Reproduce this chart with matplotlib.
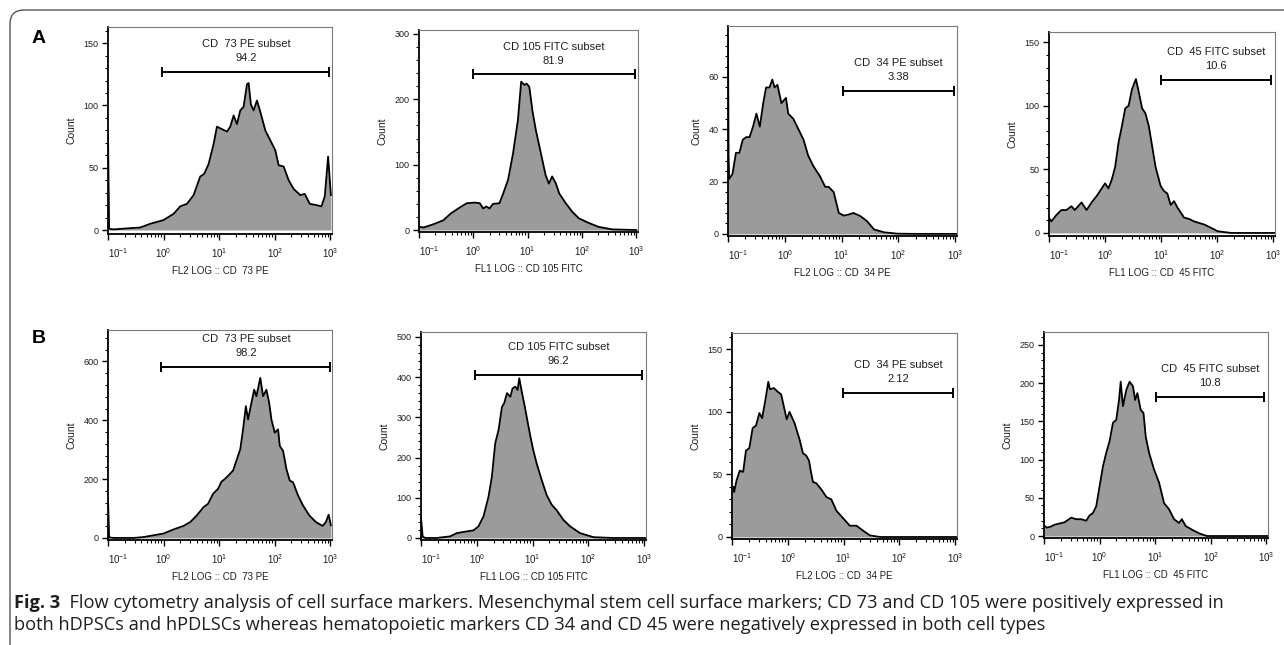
import numpy as np
import matplotlib
matplotlib.use("Agg")
import matplotlib.pyplot as plt
from matplotlib.patches import FancyBboxPatch
from matplotlib.transforms import IdentityTransform, ScaledTranslation
from matplotlib.ticker import MultipleLocator, FixedLocator, FixedFormatter, NullFormatter

plt.rcParams['font.family'] = ['Liberation Sans', 'DejaVu Sans']

# ---------------- data (x as log10 fluorescence, y as count) ----------------
a1_exp = [-1.0, -0.98, -0.9, -0.66, -0.42, -0.24, 0.0, 0.18, 0.30, 0.42, 0.54, 0.66, 0.73, 0.81, 0.90, 0.96,
          1.05, 1.14, 1.20, 1.26, 1.32, 1.38, 1.44, 1.50, 1.53, 1.57, 1.62, 1.68, 1.74, 1.83, 1.92, 2.01, 2.07,
          2.16, 2.25, 2.34, 2.46, 2.54, 2.63, 2.75, 2.84, 2.90, 2.96, 3.01]
a1_cnt = [77, 1, 0.5, 1.3, 2, 5, 8, 13, 19, 21, 28, 43, 45, 53, 69, 83, 81, 79, 83, 92, 85, 96, 99, 117, 118, 101,
          96, 104, 95, 80, 72, 64, 52, 51, 40, 33, 28, 29, 21, 20, 19, 27, 59, 28]

a2_exp = [-1.0, -0.91, -0.73, -0.55, -0.42, -0.24, -0.12, 0.03, 0.12, 0.18, 0.24, 0.30, 0.36, 0.48, 0.55, 0.64,
          0.73, 0.82, 0.88, 0.94, 0.98, 1.03, 1.09, 1.15, 1.21, 1.27, 1.33, 1.39, 1.45, 1.52, 1.58, 1.70, 1.82,
          1.94, 2.12, 2.30, 2.55, 2.79, 3.0]
a2_cnt = [5, 4, 9, 15, 25, 35, 41, 42, 41, 33, 36, 33, 40, 41, 56, 77, 117, 168, 227, 222, 224, 219, 181, 153,
          130, 107, 84, 71, 82, 71, 56, 41, 28, 18, 11, 5, 1, 0.5, 0]

a3_exp = [-1.0, -0.99, -0.98, -0.92, -0.86, -0.80, -0.74, -0.68, -0.62, -0.56, -0.50, -0.44, -0.38, -0.33, -0.27,
          -0.22, -0.18, -0.13, -0.06, 0.02, 0.06, 0.15, 0.24, 0.33, 0.41, 0.50, 0.62, 0.71, 0.77, 0.86, 0.95, 1.04,
          1.12, 1.21, 1.33, 1.45, 1.57, 1.75, 1.98, 2.28, 3.03]
a3_cnt = [75, 30, 21, 23, 31, 31, 36, 37, 37, 41, 46, 41, 50, 56, 56, 59, 56, 57, 50, 52, 46, 44, 40, 36, 30, 26,
          22, 18, 18, 16, 8, 7, 7.4, 8, 6.8, 4.8, 1.7, 0.6, 0.1, 0, 0]

a4_exp = [-1.0, -0.96, -0.87, -0.78, -0.69, -0.60, -0.54, -0.42, -0.33, -0.24, -0.15, -0.06, 0.0, 0.06, 0.12, 0.18,
          0.24, 0.30, 0.36, 0.42, 0.48, 0.55, 0.60, 0.66, 0.72, 0.78, 0.84, 0.90, 0.99, 1.05, 1.11, 1.17, 1.23,
          1.29, 1.41, 1.50, 1.59, 1.77, 1.89, 2.01, 2.25, 3.03]
a4_cnt = [12, 9, 14, 18, 18, 21, 18, 24, 18, 24, 29, 35, 39, 35, 42, 52, 71, 84, 98, 100, 113, 121, 111, 98, 94,
          84, 68, 52, 37, 33, 31, 22, 25, 20, 12, 11, 9, 6.6, 4, 1.3, 0, 0]

b1_exp = [-1.0, -0.98, -0.90, -0.54, -0.36, -0.18, 0.0, 0.18, 0.36, 0.48, 0.60, 0.72, 0.80, 0.89, 0.98, 1.04, 1.10,
          1.19, 1.25, 1.32, 1.38, 1.43, 1.48, 1.52, 1.58, 1.63, 1.67, 1.74, 1.79, 1.85, 1.90, 1.94, 2.00, 2.06,
          2.09, 2.15, 2.21, 2.27, 2.33, 2.42, 2.51, 2.62, 2.74, 2.86, 2.92, 2.97, 3.01]
b1_cnt = [133, 2, 0, 0, 3, 9, 15, 29, 41, 54, 77, 105, 116, 150, 167, 191, 200, 217, 229, 268, 302, 369, 448, 403,
          459, 504, 482, 544, 482, 504, 459, 403, 358, 369, 313, 296, 234, 195, 189, 144, 110, 77, 54, 41, 54, 79, 43]

b2_exp = [-1.0, -0.97, -0.92, -0.72, -0.48, -0.36, -0.24, -0.06, 0.03, 0.12, 0.21, 0.27, 0.33, 0.39, 0.45, 0.49,
          0.54, 0.60, 0.64, 0.69, 0.73, 0.76, 0.81, 0.86, 0.92, 0.96, 1.01, 1.07, 1.16, 1.25, 1.34, 1.43, 1.55,
          1.67, 1.85, 2.09, 2.44, 3.03]
b2_cnt = [50, 3, 0, 0, 4, 12, 15, 19, 29, 54, 103, 153, 236, 269, 326, 335, 360, 351, 372, 376, 368, 397, 360, 326,
          281, 252, 219, 186, 145, 107, 83, 69, 45, 29, 12, 2, 0, 0]

b3_exp = [-1.0, -0.97, -0.96, -0.92, -0.86, -0.80, -0.75, -0.69, -0.63, -0.57, -0.51, -0.46, -0.40, -0.35, -0.32,
          -0.25, -0.18, -0.12, -0.06, -0.02, 0.03, 0.12, 0.21, 0.27, 0.33, 0.38, 0.41, 0.45, 0.51, 0.60, 0.69, 0.78,
          0.87, 0.99, 1.11, 1.23, 1.35, 1.47, 1.65, 3.03]
b3_cnt = [40, 40, 36, 45, 53, 52, 69, 71, 87, 89, 99, 95, 110, 124, 118, 119, 116, 114, 102, 94, 100, 91, 78, 67,
          65, 61, 53, 44, 43, 38, 32, 30, 21, 15, 9, 9, 5, 1.3, 0, 0]

b4_exp = [-1.0, -0.95, -0.89, -0.80, -0.71, -0.63, -0.51, -0.42, -0.33, -0.24, -0.18, -0.12, -0.06, 0.0, 0.06, 0.12,
          0.18, 0.24, 0.30, 0.35, 0.38, 0.42, 0.48, 0.54, 0.60, 0.64, 0.68, 0.74, 0.79, 0.83, 0.89, 0.98, 1.07,
          1.16, 1.25, 1.34, 1.43, 1.48, 1.55, 1.67, 1.79, 1.93, 3.03]
b4_cnt = [14, 11, 12, 15, 16.5, 18, 24, 22, 22, 20, 27, 30, 39, 65, 91, 109, 124, 148, 152, 178, 202, 170, 191, 202,
          196, 178, 187, 165, 161, 130, 109, 87, 70, 43, 35, 22, 17, 22, 13, 8, 3.5, 0, 0]

subset_names = ["CD  73 PE subset", "CD 105 FITC subset", "CD  34 PE subset", "CD  45 FITC subset"]
x_titles = ["FL2 LOG :: CD  73 PE", "FL1 LOG :: CD 105 FITC", "FL2 LOG :: CD  34 PE", "FL1 LOG :: CD  45 FITC"]
gate_pct = ["94.2", "81.9", "3.38", "10.6", "98.2", "96.2", "2.12", "10.8"]
gate_lo_exp = [-0.02, -0.01, 1.02, 1.0, -0.04, -0.04, 0.99, 1.01]
gate_hi_exp = [2.98, 2.97, 2.98, 2.96, 3.0, 2.96, 2.96, 2.96]
gate_level = [127, 238, 54.8, 120.6, 581, 405, 115, 182]
y_major = [50, 100, 20, 50, 200, 100, 50, 50]
y_minor = [10, 20, 4, 10, 40, 20, 10, 10]
y_range = [(-3.2, 163), (-3, 306), (-0.8, 79.5), (-2.4, 158), (-7, 707), (-5, 512), (-1.6, 163), (-2.6, 267)]
row_letters = ["A", "B"]

caption_bold = "Fig. 3"
caption_l1 = ("  Flow cytometry analysis of cell surface markers. Mesenchymal stem cell surface markers; "
              "CD 73 and CD 105 were positively expressed in")
caption_l2 = ("both hDPSCs and hPDLSCs whereas hematopoietic markers CD 34 and CD 45 were negatively "
              "expressed in both cell types")

series_exp = [a1_exp, a2_exp, a3_exp, a4_exp, b1_exp, b2_exp, b3_exp, b4_exp]
series_cnt = [a1_cnt, a2_cnt, a3_cnt, a4_cnt, b1_cnt, b2_cnt, b3_cnt, b4_cnt]

# ---------------- layout (pixel boxes: left, right, top, bottom) ----------------
W, H = 1284, 645
boxes = [(108, 332, 27, 234), (419, 638, 30, 232), (728, 957, 26, 236), (1049, 1275, 32, 236),
         (108, 332, 330, 540), (421, 646, 332, 540), (732, 957, 333, 539), (1044, 1268, 332, 538)]

fig = plt.figure(figsize=(W / 100, H / 100), dpi=100)
fig.patch.set_facecolor('white')

# outer rounded frame
frame = FancyBboxPatch((10, -60), 1500, H - 10 + 60, boxstyle="round,pad=0,rounding_size=14",
                       transform=IdentityTransform(), fill=False, ec='#555555', lw=1.0)
fig.add_artist(frame)

txt_col = '#1e1e1e'
for i in range(8):
    l, r, t, b = boxes[i]
    ax = fig.add_axes([l / W, 1 - b / H, (r - l) / W, (b - t) / H])
    x = 10.0 ** np.array(series_exp[i])
    y = np.array(series_cnt[i], dtype=float)
    ax.fill_between(x, 0, y, color='#9b9b9b', lw=0, zorder=1)
    ax.plot(x, y, color='black', lw=1.3, zorder=2, solid_joinstyle='round')

    ax.set_xscale('log')
    ax.set_xlim(0.1, 10 ** 3.03)
    ax.set_ylim(*y_range[i])

    # gate
    glo, ghi = 10 ** gate_lo_exp[i], 10 ** gate_hi_exp[i]
    gy = gate_level[i]
    ax.plot([glo, ghi], [gy, gy], color='black', lw=1.4, zorder=3)
    ax.plot([glo, ghi], [gy, gy], ls='none', marker='|', ms=7, mew=1.4, color='black', zorder=3)
    gmid = 10 ** ((gate_lo_exp[i] + gate_hi_exp[i]) / 2)
    ax.annotate(subset_names[i % 4], xy=(gmid, gy), xytext=(0, 20), textcoords='offset points',
                ha='center', va='center', fontsize=8, color=txt_col)
    ax.annotate(gate_pct[i], xy=(gmid, gy), xytext=(0, 10), textcoords='offset points',
                ha='center', va='center', fontsize=8, color=txt_col)

    # spines
    for s in ['top', 'right']:
        ax.spines[s].set_color('#7a7a7a')
        ax.spines[s].set_linewidth(0.8)
    for s in ['left', 'bottom']:
        ax.spines[s].set_color('black')
        ax.spines[s].set_linewidth(1.3)

    # ticks
    ax.yaxis.set_major_locator(MultipleLocator(y_major[i]))
    ax.yaxis.set_minor_locator(MultipleLocator(y_minor[i]))
    ax.xaxis.set_major_locator(FixedLocator([0.1, 1, 10, 100, 1000]))
    ax.xaxis.set_major_formatter(FixedFormatter([r'$\mathdefault{10^{-1}}$', r'$\mathdefault{10^{0}}$',
                                                 r'$\mathdefault{10^{1}}$', r'$\mathdefault{10^{2}}$',
                                                 r'$\mathdefault{10^{3}}$']))
    minors = [m * 10.0 ** d for d in range(-1, 3) for m in range(2, 10)]
    ax.xaxis.set_minor_locator(FixedLocator(minors))
    ax.xaxis.set_minor_formatter(NullFormatter())
    ax.tick_params(axis='both', which='major', direction='out', length=4.3, width=1.0, colors='black',
                   labelsize=6.5, pad=2.5, labelcolor=txt_col)
    ax.tick_params(axis='both', which='minor', direction='out', length=2.2, width=0.8, colors='black')
    ax.tick_params(axis='x', which='major', labelsize=7, pad=4.5)

    ax.set_ylabel("Count", fontsize=7.5, labelpad=5, color=txt_col)
    ax.set_xlabel(x_titles[i % 4], fontsize=7, labelpad=4, color=txt_col)

    # shift the 10^-1 label off the spine like the reference
    tk = ax.xaxis.get_major_ticks()
    tk[0].label1.set_transform(tk[0].label1.get_transform() +
                               ScaledTranslation(7 / 72, 0, fig.dpi_scale_trans))

# row letters
fig.text(32 / W, 1 - 43 / H, row_letters[0], fontsize=14, fontweight='bold', ha='left', va='baseline')
fig.text(32 / W, 1 - 343 / H, row_letters[1], fontsize=14, fontweight='bold', ha='left', va='baseline')

# caption
cap_font = ['Open Sans', 'DejaVu Sans']
cap_x = 14
cap_y1, cap_y2 = 608, 630
t1 = fig.text(cap_x / W, 1 - cap_y1 / H, caption_bold, fontsize=11, fontweight='bold', family=cap_font,
              ha='left', va='baseline', color=txt_col)
ann = fig.text(0, 0, caption_l1, fontsize=11, family=cap_font, color=txt_col, ha='left', va='baseline')
t2 = fig.text(cap_x / W, 1 - cap_y2 / H, caption_l2, fontsize=11, family=cap_font, ha='left', va='baseline',
              color=txt_col)

# fit caption size so the first line ends where it does in the reference
fig.canvas.draw()
rend = fig.canvas.get_renderer()
w_bold = t1.get_window_extent(rend).width
w_rest = ann.get_window_extent(rend).width
scale = (1226 - cap_x) / (w_bold + w_rest)
for tt in (t1, ann, t2):
    tt.set_fontsize(11 * scale)
fig.canvas.draw()
w_bold = t1.get_window_extent(rend).width
ann.set_position(((cap_x + w_bold) / W, 1 - cap_y1 / H))

fig.savefig("out.png", dpi=100, facecolor='white')
